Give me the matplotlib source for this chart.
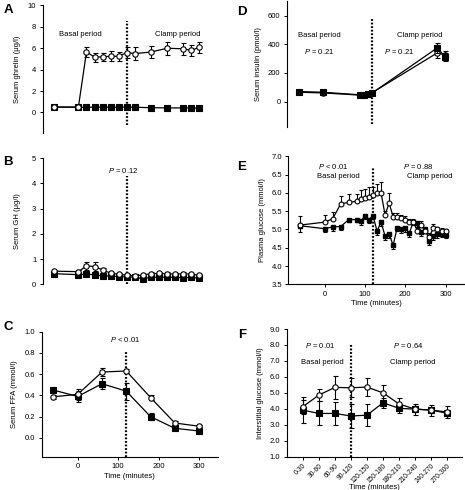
import matplotlib
matplotlib.use("Agg")
import matplotlib.pyplot as plt

plt.rcParams['font.family'] = ['Liberation Sans', 'DejaVu Sans']
plt.rcParams['mathtext.fontset'] = 'custom'
plt.rcParams['mathtext.it'] = 'Liberation Sans:italic'
plt.rcParams['mathtext.rm'] = 'Liberation Sans'
plt.rcParams['font.size'] = 5.5

# A - ghrelin
tA = [-60, 0, 20, 40, 60, 80, 100, 120, 140, 180, 220, 260, 280, 300]
ghrelin_open = [0.5, 0.5, 5.66, 5.16, 5.2, 5.25, 5.25, 5.6, 5.5, 5.65, 6.0, 5.95, 5.8, 6.1]
ghrelin_open_err = [0.05, 0.05, 0.45, 0.4, 0.4, 0.45, 0.4, 0.55, 0.6, 0.6, 0.6, 0.55, 0.5, 0.5]
ghrelin_filled = [0.5, 0.48, 0.48, 0.48, 0.5, 0.48, 0.48, 0.5, 0.48, 0.44, 0.42, 0.42, 0.4, 0.4]

# B - GH
tB = [-60, 0, 20, 40, 60, 80, 100, 120, 140, 160, 180, 200, 220, 240, 260, 280, 300]
gh_open = [0.52, 0.5, 0.73, 0.7, 0.57, 0.44, 0.4, 0.36, 0.33, 0.37, 0.42, 0.43, 0.42, 0.4, 0.42, 0.4, 0.36]
gh_open_err = [0.05, 0.05, 0.15, 0.17, 0.08, 0.06, 0.05, 0.05, 0.05, 0.05, 0.05, 0.05, 0.05, 0.05, 0.05, 0.05, 0.05]
gh_filled = [0.42, 0.38, 0.4, 0.38, 0.33, 0.33, 0.3, 0.3, 0.28, 0.22, 0.28, 0.28, 0.28, 0.27, 0.26, 0.27, 0.24]

# C - FFA
tC = [-60, 0, 60, 120, 180, 240, 300]
ffa_open = [0.387, 0.41, 0.62, 0.63, 0.38, 0.14, 0.11]
ffa_open_err = [0.02, 0.05, 0.04, 0.02, 0.02, 0.02, 0.01]
ffa_filled = [0.45, 0.39, 0.51, 0.44, 0.2, 0.09, 0.065]
ffa_filled_err = [0.02, 0.05, 0.05, 0.08, 0.03, 0.02, 0.01]

# D - insulin
tD = [-60, 0, 90, 100, 110, 120, 280, 300]
ins_open = [65, 60, 45, 45, 50, 62, 340, 325]
ins_open_err = [10, 10, 8, 8, 8, 8, 35, 30]
ins_filled = [70, 65, 47, 47, 53, 60, 375, 310]
ins_filled_err = [10, 10, 8, 8, 8, 8, 35, 30]

# E - plasma glucose
tE = [-60, 0, 20, 40, 60, 80, 90, 100, 110, 120, 130, 140, 150, 160, 170, 180,
      190, 200, 210, 220, 230, 240, 250, 260, 270, 280, 290, 300]
glu_open = [5.12, 5.2, 5.29, 5.7, 5.74, 5.77, 5.82, 5.86, 5.9, 5.93, 6.0, 6.0, 5.4, 5.72,
            5.35, 5.34, 5.3, 5.27, 5.2, 5.2, 4.97, 5.12, 4.95, 4.8, 5.05, 5.0, 4.97, 4.95]
glu_open_up = [0.25, 0.2, 0.2, 0.22, 0.22, 0.2, 0.25, 0.25, 0.25, 0.22, 0.25, 0.3, 0.1, 0.28,
               0.1, 0.1, 0.1, 0.1, 0.08, 0.08, 0.1, 0.1, 0.1, 0.1, 0.1, 0.08, 0.08, 0.06]
glu_filled = [5.1, 5.02, 5.07, 5.08, 5.27, 5.27, 5.22, 5.38, 5.27, 5.38, 4.96, 5.2, 4.82, 4.87,
              4.57, 5.05, 5.0, 5.03, 4.9, 5.2, 5.17, 4.92, 5.0, 4.68, 4.82, 4.87, 4.87, 4.85]
glu_filled_lo = [0.18, 0.1, 0.1, 0.1, 0.08, 0.08, 0.1, 0.1, 0.1, 0.1, 0.12, 0.1, 0.1, 0.1,
                 0.1, 0.1, 0.1, 0.1, 0.1, 0.08, 0.1, 0.1, 0.1, 0.1, 0.1, 0.1, 0.08, 0.08]

# F - interstitial glucose
cats = ['0-30', '30-60', '60-90', '90-120', '120-150', '150-180',
        '180-210', '210-240', '240-270', '270-300']
isf_open = [4.13, 4.86, 5.34, 5.32, 5.36, 5.0, 4.3, 3.98, 3.92, 3.8]
isf_open_err = [0.45, 0.4, 0.7, 0.6, 0.55, 0.5, 0.4, 0.35, 0.35, 0.4]
isf_filled = [3.92, 3.71, 3.71, 3.55, 3.6, 4.38, 4.03, 3.98, 3.92, 3.72]
isf_filled_err = [0.8, 0.75, 0.7, 0.75, 0.7, 0.3, 0.3, 0.2, 0.2, 0.15]

W, H = 465, 490
fig = plt.figure(figsize=(W / 100, H / 100), dpi=100)


def axes_px(x0, y0, x1, y1):
    # pixel box -> figure fraction
    return fig.add_axes([x0 / W, 1 - y1 / H, (x1 - x0) / W, (y1 - y0) / H])


def style(ax, xaxis=True):
    ax.spines['top'].set_visible(False)
    ax.spines['right'].set_visible(False)
    ax.tick_params(length=2.5, width=0.7, pad=2, labelsize=5.5)
    for s in ax.spines.values():
        s.set_linewidth(0.8)
    if not xaxis:
        ax.spines['bottom'].set_visible(False)
        ax.set_xticks([])


def series(ax, x, y, err, marker, fill, z, ms=3.9):
    ax.errorbar(x, y, yerr=err, color='black', lw=0.9, marker=marker, ms=ms,
                mfc=fill, mec='black', mew=0.8, ecolor='black', elinewidth=0.8,
                capsize=1.8, capthick=0.8, zorder=z)


def vline(ax, x, lo, hi):
    ax.axvline(x, lo, hi, color='black', lw=1.6, ls=(0, (0.8, 0.8)), zorder=1)


def ptxt(ax, x, y, s):
    ax.text(x, y, s, ha='center', va='center', fontsize=5.5)


# Panel A
axA = axes_px(42.5, 5.5, 218, 132.7)
series(axA, tA, ghrelin_filled, [0.03] * len(tA), 's', 'black', 3)
series(axA, tA, ghrelin_open, ghrelin_open_err, 'o', 'white', 4)
axA.set_xlim(-89, 346)
axA.set_ylim(-1.9, 10)
axA.set_yticks([0, 2, 4, 6, 8, 10])
vline(axA, 120, 0.059, 0.882)
ptxt(axA, 4, 7.3, 'Basal period')
ptxt(axA, 245, 7.3, 'Clamp period')
axA.set_ylabel('Serum ghrelin (\u03bcg/l)', fontsize=5.5, labelpad=5)
style(axA, xaxis=False)

# Panel B
axB = axes_px(42.5, 158, 218, 284.3)
series(axB, tB, gh_filled, [0.03] * len(tB), 's', 'black', 3)
series(axB, tB, gh_open, gh_open_err, 'o', 'white', 4)
axB.set_xlim(-89, 346)
axB.set_ylim(0, 5)
axB.set_yticks([0, 1, 2, 3, 4, 5])
vline(axB, 120, 0.0, 0.86)
ptxt(axB, 112, 4.5, '$\\it{P}$ = 0.12')
axB.set_ylabel('Serum GH (\u03bcg/l)', fontsize=5.5, labelpad=8)
style(axB, xaxis=False)

# Panel C
axC = axes_px(41.7, 331.7, 217.7, 457)
series(axC, tC, ffa_filled, ffa_filled_err, 's', 'black', 3)
series(axC, tC, ffa_open, ffa_open_err, 'o', 'white', 4)
axC.set_xlim(-89, 346)
axC.set_ylim(-0.18, 1.0)
axC.set_yticks([0.0, 0.2, 0.4, 0.6, 0.8, 1.0])
axC.set_yticklabels(['0.0', '0.2', '0.4', '0.6', '0.8', '1.0'])
axC.set_xticks([0, 100, 200, 300])
vline(axC, 120, 0.0, 0.839)
ptxt(axC, 118, 0.93, '$\\it{P}$ < 0.01')
axC.set_ylabel('Serum FFA (mmol/l)', fontsize=5.5, labelpad=5)
axC.set_xlabel('Time (minutes)', fontsize=5.5, labelpad=2)
style(axC)

# Panel D
axD = axes_px(286.7, 1.4, 463.7, 127.3)
series(axD, tD, ins_open, ins_open_err, 'o', 'white', 3)
series(axD, tD, ins_filled, ins_filled_err, 's', 'black', 4)
axD.set_xlim(-90, 345)
axD.set_ylim(-180, 700)
axD.set_yticks([0, 200, 400, 600])
vline(axD, 120, 0.028, 0.86)
ptxt(axD, -10, 465, 'Basal period')
ptxt(axD, -10, 348, '$\\it{P}$ = 0.21')
ptxt(axD, 236, 465, 'Clamp period')
ptxt(axD, 187, 348, '$\\it{P}$ = 0.21')
axD.set_ylabel('Serum insulin (pmol/l)', fontsize=5.5, labelpad=4)
style(axD, xaxis=False)

# Panel E
axE = axes_px(288.3, 156.3, 463.7, 284.3)
axE.errorbar(tE, glu_filled, yerr=[glu_filled_lo, [0] * len(tE)], color='black', lw=0.9,
             marker='s', ms=3.5, mfc='black', mec='black', ecolor='black',
             elinewidth=0.8, capsize=1.6, capthick=0.8, zorder=3)
axE.errorbar(tE, glu_open, yerr=[[0] * len(tE), glu_open_up], color='black', lw=0.9,
             marker='o', ms=3.5, mfc='white', mec='black', mew=0.8, ecolor='black',
             elinewidth=0.8, capsize=1.6, capthick=0.8, zorder=4)
axE.set_xlim(-90, 345)
axE.set_ylim(3.5, 7.0)
axE.set_yticks([3.5, 4.0, 4.5, 5.0, 5.5, 6.0, 6.5, 7.0])
axE.set_yticklabels(['3.5', '4.0', '4.5', '5.0', '5.5', '6.0', '6.5', '7.0'])
axE.set_xticks([0, 100, 200, 300])
vline(axE, 120, 0.0, 0.914)
ptxt(axE, 21, 6.73, '$\\it{P}$ < 0.01')
ptxt(axE, 34, 6.46, 'Basal period')
ptxt(axE, 233, 6.73, '$\\it{P}$ = 0.88')
ptxt(axE, 260, 6.46, 'Clamp period')
axE.set_ylabel('Plasma glucose (mmol/l)', fontsize=5.5, labelpad=4)
axE.set_xlabel('Time (minutes)', fontsize=5.5, labelpad=2)
style(axE)

# Panel F
xF = list(range(len(cats)))
axF = axes_px(286.7, 329, 461.7, 456.7)
series(axF, xF, isf_filled, isf_filled_err, 's', 'black', 3)
series(axF, xF, isf_open, isf_open_err, 'o', 'white', 4)
axF.set_xlim(-1, 9.9)
axF.set_ylim(1, 9)
axF.set_yticks(range(1, 10))
axF.set_yticklabels(['%.1f' % v for v in range(1, 10)])
axF.set_xticks(xF)
vline(axF, 3, 0.0, 0.875)
ptxt(axF, 1.07, 7.94, '$\\it{P}$ = 0.01')
ptxt(axF, 1.2, 6.93, 'Basal period')
ptxt(axF, 6.54, 7.94, '$\\it{P}$ = 0.64')
ptxt(axF, 6.85, 6.93, 'Clamp period')
axF.set_ylabel('Interstitial glucose (mmol/l)', fontsize=5.5, labelpad=4)
style(axF)
axF.set_xticklabels(cats, rotation=45, ha='right', rotation_mode='anchor', fontsize=4.8)
axF.tick_params(axis='x', pad=1.5)
axF.set_xlabel('Time (minutes)', fontsize=5.5, labelpad=0)

for lab, x, y in [('A', 8, 10), ('B', 8, 162), ('C', 8, 327), ('D', 242, 12), ('E', 242, 167), ('F', 242, 335)]:
    fig.text(x / W, 1 - y / H, lab, fontsize=9.5, fontweight='bold', ha='center', va='center')

fig.savefig('out.png', dpi=100)
